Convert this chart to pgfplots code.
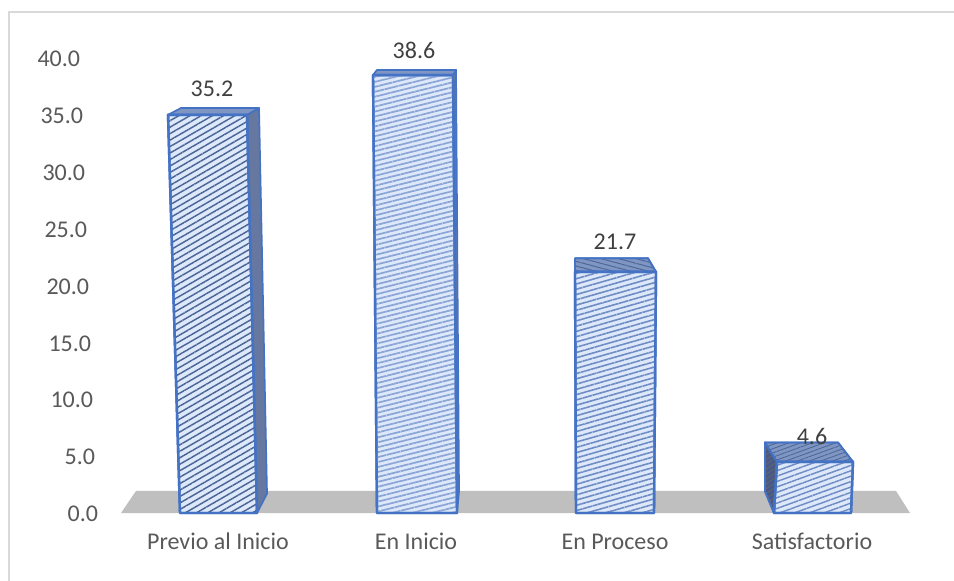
\documentclass[border=0pt]{standalone}
\usepackage{fontspec}
\setmainfont{Carlito}
\usepackage{pgfplots}
\pgfplotsset{compat=1.18}
\usetikzlibrary{patterns.meta}
\definecolor{barline}{HTML}{4472C4}
\definecolor{barfill}{HTML}{DDE9FA}
\definecolor{hatchA}{HTML}{4A6596}
\definecolor{hatchB}{HTML}{8BA5D6}
\definecolor{hatchC}{HTML}{6F8CC4}
\definecolor{sideface}{HTML}{66789F}
\definecolor{topface}{HTML}{7F95C2}
\definecolor{darkside}{HTML}{45598A}
\definecolor{floorgray}{HTML}{BFBFBF}
\definecolor{txt}{HTML}{595959}
\definecolor{framegray}{HTML}{D9D9D9}
\pgfplotsset{
  frontbar/.style n args={4}{draw=barline,line width=1.8pt,line join=round,fill=barfill,
    postaction={pattern={Lines[angle=#1,distance=#2,line width=#3]},pattern color=#4}},
  face/.style={draw=barline,line width=1.3pt,line join=round},
}
\newcommand{\lab}[2]{\hbox{#1\kern#2pt}}
\begin{document}
% 1 px of the reference = 0.75pt here, top left corner at (0,0)
\begin{tikzpicture}
\path[use as bounding box] (0pt,0pt) rectangle (715.5pt,-435.75pt);
\draw[framegray,line width=1.5pt] (6.75pt,-435.75pt) -- (6.75pt,-9pt) -- (715.5pt,-9pt);
\begin{axis}[
  at={(90.75pt,-384.75pt)},anchor=south west,
  scale only axis,
  width=591.75pt,height=341.25pt,
  xmin=121,xmax=910,ymin=0,ymax=40,
  clip=false,
  axis line style={draw=none},
  major tick length=0pt,
  xtick={218,416,615,812},
  xticklabels={Previo al Inicio,En Inicio,En Proceso,Satisfactorio},
  ytick={0,5,10,15,20,25,30,35,40},
  % the labels step left going up, as the reference's perspective has them
  yticklabels={\lab{0.0}{0},\lab{5.0}{2.25},\lab{10.0}{3.75},\lab{15.0}{5.25},\lab{20.0}{6.75},\lab{25.0}{8.25},\lab{30.0}{9.75},\lab{35.0}{11.25},\lab{40.0}{13.5}},
  /pgf/number format/fixed,
  /pgf/number format/fixed zerofill,
  /pgf/number format/precision=1,
  /pgf/number format/assume math mode=true,
  tick label style={text=txt,font=\fontsize{18}{20}\selectfont,inner sep=2pt},
  xticklabel style={yshift=-13.5pt,text height=12pt,text depth=3pt},
  yticklabel style={xshift=-15pt,yshift=-0.75pt},
]
% floor
\addplot[fill=floorgray,draw=none] coordinates {(121,0)(136,1.94)(896,1.94)(910,0)} -- cycle;

% side and top faces
\addplot[face,fill=sideface] coordinates {(247,35.0)(259,35.6)(267,1.7)(257,0)} -- cycle;
\addplot[face,fill=topface] coordinates {(168,35.0)(181,35.6)(259,35.6)(247,35.0)} -- cycle;
\addplot[face,fill=sideface] coordinates {(453,38.5)(456,38.95)(459,1.9)(457,0)} -- cycle;
\addplot[face,fill=topface] coordinates {(373,38.5)(377,38.95)(456,38.95)(453,38.5)} -- cycle;
\addplot[face,fill=topface,postaction={pattern={Lines[angle=-15,distance=3.4pt,line width=0.7pt]},pattern color=hatchA}] coordinates {(575,21.2)(575,22.4)(648,22.4)(656,21.2)} -- cycle;
\addplot[face,fill=darkside,postaction={pattern={Lines[angle=35,distance=3pt,line width=0.7pt]},pattern color=black!60}] coordinates {(774,0)(765,1.9)(765,6.2)(777,4.5)} -- cycle;
\addplot[face,fill=topface,postaction={pattern={Lines[angle=20,distance=3pt,line width=0.6pt]},pattern color=hatchA}] coordinates {(777,4.5)(765,6.2)(838,6.2)(853,4.5)} -- cycle;

% front faces, with the tops where the perspective of the reference puts them
\addplot[frontbar={30}{4.2pt}{1.1pt}{hatchA}] coordinates {(180,0)(168,35.0)(247,35.0)(257,0)} -- cycle;
\addplot[frontbar={14}{3.6pt}{1.3pt}{hatchB}] coordinates {(377,0)(373,38.5)(453,38.5)(457,0)} -- cycle;
\addplot[frontbar={16}{3.8pt}{1.2pt}{hatchC}] coordinates {(576,0)(575,21.2)(656,21.2)(654,0)} -- cycle;
\addplot[frontbar={20}{3.8pt}{1.1pt}{hatchC}] coordinates {(774,0)(777,4.5)(853,4.5)(851,0)} -- cycle;

% value labels
\addplot[draw=none,mark=none,nodes near coords,point meta=explicit,
  nodes near coords style={text=black!75,anchor=center,yshift=18pt,font=\fontsize{18}{20}\selectfont}]
  coordinates {(212,35.2)[35.2] (414,38.6)[38.6] (615,21.7)[21.7] (812,4.6)[4.6]};
\end{axis}
\end{tikzpicture}
\end{document}
